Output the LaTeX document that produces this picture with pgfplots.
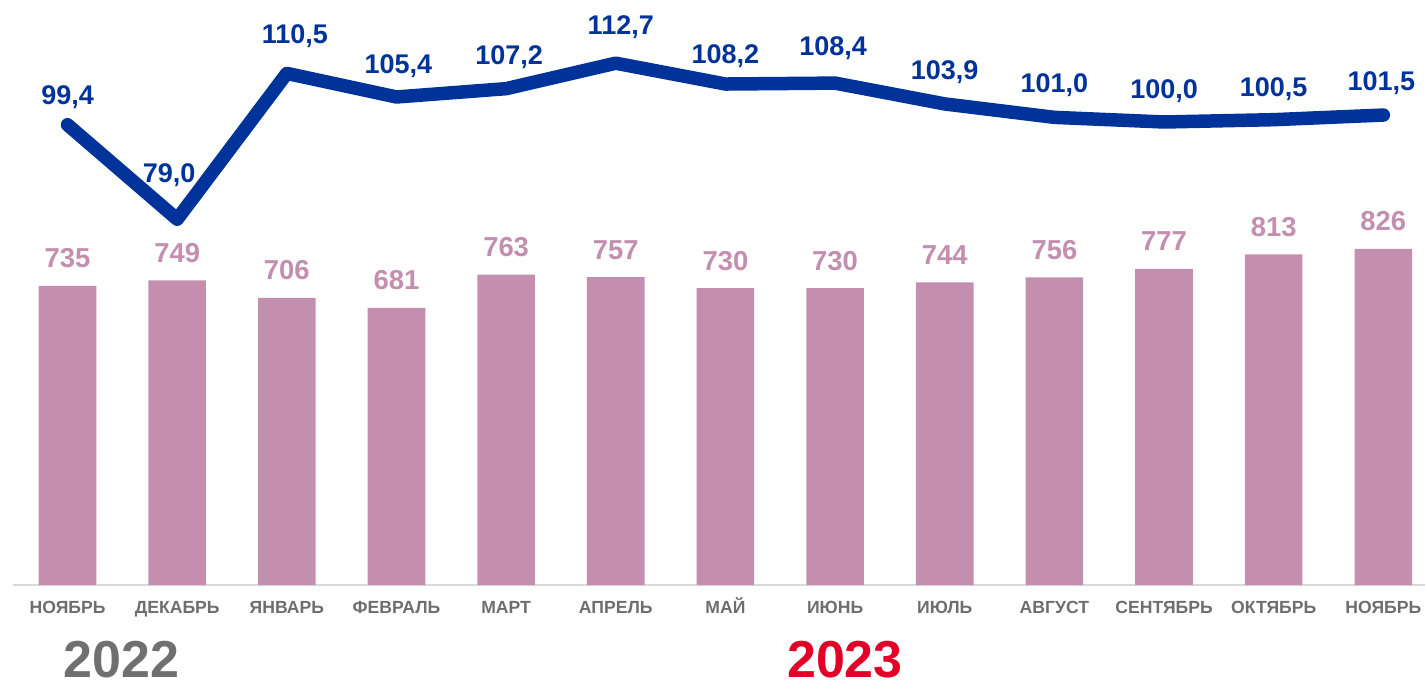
\documentclass[border=0pt]{standalone}
\usepackage{pgfplots}
\usepackage{pgfplotstable}
\pgfplotsset{compat=1.18}
\usepackage{fontspec}
\setmainfont{Liberation Sans}
\definecolor{barpink}{RGB}{196,143,175}
\definecolor{lineblue}{RGB}{0,51,153}
\definecolor{tickgray}{RGB}{110,110,110}
\definecolor{yeargray}{RGB}{112,112,112}
\definecolor{yearred}{RGB}{226,0,40}
\definecolor{basegray}{RGB}{217,217,217}

\pgfplotstableread{
x y lab
0 735 735
1 749 749
2 706 706
3 681 681
4 763 763
5 757 757
6 730 730
7 730 730
8 744 744
9 756 756
10 777 777
11 813 813
12 826 826
}\bars

\pgfplotstableread{
x y lab dx dy
0 99.4 99,4 0 10
1 79.0 79,0 -4 18.5
2 110.5 110,5 4 15
3 105.4 105,4 1 11.5
4 107.2 107,2 1.5 12
5 112.7 112,7 2.5 14.5
6 108.2 108,2 0 10.5
7 108.4 108,4 -1 14
8 103.9 103,9 0 12
9 101.0 101,0 0 12.5
10 100.0 100,0 0 11.5
11 100.5 100,5 0 11.5
12 101.5 101,5 -1 12.5
}\idx

\begin{document}
\begin{tikzpicture}
\useasboundingbox (-6.35pt,-50.5pt) rectangle (706.15pt,292.5pt);
\begin{axis}[
  at={(0,0)}, anchor=south west,
  scale only axis, width=706.15pt, height=292.5pt,
  xmin=-0.5, xmax=12.38, ymin=0, ymax=1438,
  ybar, bar width=28.8pt,
  axis x line*=bottom, axis y line=none,
  x axis line style={draw=basegray, line width=1pt, -},
  xtick={0,...,12},
  xticklabels={НОЯБРЬ,ДЕКАБРЬ,ЯНВАРЬ,ФЕВРАЛЬ,МАРТ,АПРЕЛЬ,МАЙ,ИЮНЬ,ИЮЛЬ,АВГУСТ,СЕНТЯБРЬ,ОКТЯБРЬ,НОЯБРЬ},
  major tick length=0pt,
  xticklabel style={anchor=base, yshift=-14.25pt, font=\fontsize{8.8pt}{10pt}\selectfont\bfseries, text=tickgray, inner sep=0pt},
  clip=false,
  point meta=explicit symbolic,
  nodes near coords={\pgfplotspointmeta},
  every node near coord/.append style={anchor=base, yshift=9pt, inner sep=0pt, text=barpink, font=\fontsize{13.7pt}{16pt}\selectfont\bfseries},
]
\addplot[fill=barpink, draw=none] table[x=x, y=y, meta=lab] {\bars};
\node[anchor=base, text=yeargray, font=\fontsize{26pt}{30pt}\selectfont\bfseries, inner sep=0pt] at (axis cs:0.49,0) [yshift=-46.3pt] {2022};
\node[anchor=base, text=yearred, font=\fontsize{26pt}{30pt}\selectfont\bfseries, inner sep=0pt] at (axis cs:7.09,0) [yshift=-46.3pt] {2023};
\end{axis}
\begin{axis}[
  at={(0,0)}, anchor=south west,
  scale only axis, width=706.15pt, height=292.5pt,
  xmin=-0.5, xmax=12.38, ymin=0, ymax=126.35,
  hide axis, clip=false,
  point meta=explicit symbolic,
  visualization depends on={\thisrow{dx} \as \dx},
  visualization depends on={\thisrow{dy} \as \dy},
  nodes near coords={\pgfplotspointmeta},
  every node near coord/.append style={anchor=base, xshift=\dx pt, yshift=\dy pt, inner sep=0pt, text=lineblue, font=\fontsize{13.5pt}{16pt}\selectfont\bfseries},
]
\addplot[color=lineblue, line width=6.75pt, line cap=round, line join=round, mark=none] table[x=x, y=y, meta=lab] {\idx};
\end{axis}
\end{tikzpicture}
\end{document}
